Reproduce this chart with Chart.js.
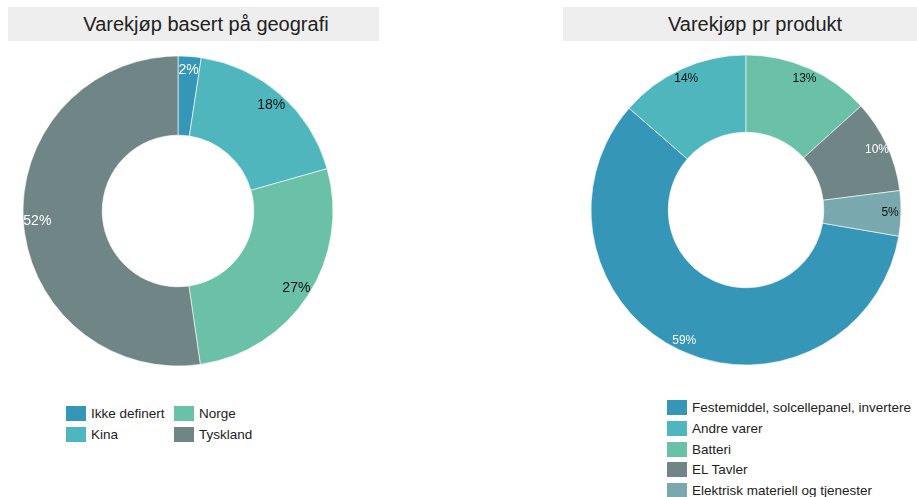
<!DOCTYPE html>
<html>
<head>
<meta charset="utf-8">
<script src="https://cdn.jsdelivr.net/npm/chart.js@4"></script>
<style>
  body { margin: 0; width: 917px; height: 497px; background: #fff; font-family: "Liberation Sans", Arial, sans-serif; position: relative; overflow: hidden; }
  .title { position: absolute; top: 7px; height: 34px; background: #eeeeee; color: #222; font-size: 20px; display: flex; align-items: center; justify-content: center; box-sizing: border-box; }
  canvas { position: absolute; }
  .legend { position: absolute; font-size: 13.5px; color: #222; }
  .item { position: absolute; display: flex; align-items: center; height: 15px; white-space: nowrap; }
  .box { width: 20px; height: 15px; margin-right: 5px; }
</style>
</head>
<body>
<div class="title" id="geoTitle" style="left:8px; width:371px; padding-left:25px;"></div>
<div class="title" id="prodTitle" style="left:563px; width:354px; padding-left:30px;"></div>
<div style="position:absolute; left:0; top:51px; width:356px; height:320px;"><canvas id="geoChart"></canvas></div>
<div style="position:absolute; left:590px; top:50px; width:312px; height:320px;"><canvas id="prodChart"></canvas></div>
<div class="legend" id="geoLegend"></div>
<div class="legend" id="prodLegend"></div>
<script>
const geoTitle = 'Varekjøp basert på geografi';
const geoLabels = ['Ikke definert', 'Kina', 'Norge', 'Tyskland'];
const geoValues = [2.4, 18.2, 27.1, 52.3];
const geoColors = ['#3596b8', '#50b6bd', '#6bc1a8', '#708585'];
const geoTextColors = ['#fff', '#111', '#111', '#fff'];

const prodTitle = 'Varekjøp pr produkt';
const prodLabels = ['Festemiddel, solcellepanel, invertere', 'Andre varer', 'Batteri', 'EL Tavler', 'Elektrisk materiell og tjenester'];
const prodValues = [58.7, 13.6, 13.3, 9.7, 4.7];
const prodColors = ['#3596b8', '#50b6bd', '#6bc1a8', '#708585', '#79a8ae'];
const prodTextColors = ['#fff', '#111', '#111', '#fff', '#111'];

document.getElementById('geoTitle').textContent = geoTitle;
document.getElementById('prodTitle').textContent = prodTitle;

// prosent-etiketter inne i ringen
const pctLabels = {
  id: 'pctLabels',
  afterDatasetsDraw(chart, args, opts) {
    const ctx = chart.ctx;
    const ds = chart.data.datasets[0];
    const total = ds.data.reduce((a, b) => a + b, 0);
    chart.getDatasetMeta(0).data.forEach((arc, i) => {
      const p = arc.getProps(['x', 'y', 'startAngle', 'endAngle', 'outerRadius'], true);
      const mid = (p.startAngle + p.endAngle) / 2;
      const r = p.outerRadius * opts.factor;
      ctx.save();
      ctx.font = opts.size + 'px "Liberation Sans", Arial, sans-serif';
      ctx.fillStyle = opts.colors[i];
      ctx.textAlign = 'center';
      ctx.textBaseline = 'middle';
      ctx.fillText(Math.round(ds.data[i] / total * 100) + '%', p.x + Math.cos(mid) * r, p.y + Math.sin(mid) * r);
      ctx.restore();
    });
  }
};

const makeChart = (id, labels, values, colors, textColors, rotation, size, factor) => new Chart(document.getElementById(id), {
  type: 'doughnut',
  data: {
    labels: labels,
    datasets: [{
      data: values,
      backgroundColor: colors,
      borderColor: 'rgba(255,255,255,0.6)',
      borderWidth: 1,
      hoverOffset: 0,
      radius: 155,
      cutout: 78
    }]
  },
  options: {
    responsive: true,
    maintainAspectRatio: false,
    animation: false,
    rotation: rotation,
    plugins: {
      legend: { display: false },
      tooltip: { enabled: false },
      pctLabels: { colors: textColors, size: size, factor: factor }
    }
  },
  plugins: [pctLabels]
});

const sum = arr => arr.reduce((a, b) => a + b, 0);
makeChart('geoChart', geoLabels, geoValues, geoColors, geoTextColors, 0, 14, 0.91);
// Festemiddel starter etter de tre siste postene
const prodRotation = sum(prodValues.slice(2)) / sum(prodValues) * 360;
makeChart('prodChart', prodLabels, prodValues, prodColors, prodTextColors, prodRotation, 12, 0.93);

const buildLegend = (id, labels, colors, positions) => {
  const el = document.getElementById(id);
  labels.forEach((lab, i) => {
    const item = document.createElement('div');
    item.className = 'item';
    item.style.left = positions[i][0] + 'px';
    item.style.top = positions[i][1] + 'px';
    item.innerHTML = '<div class="box" style="background:' + colors[i] + '"></div>';
    item.appendChild(document.createTextNode(lab));
    el.appendChild(item);
  });
};
buildLegend('geoLegend', geoLabels, geoColors, [[66, 406], [66, 427], [174, 406], [174, 427]]);
buildLegend('prodLegend', prodLabels, prodColors, [[667, 400], [667, 421], [667, 442], [667, 462], [667, 483]]);
</script>
</body>
</html>
